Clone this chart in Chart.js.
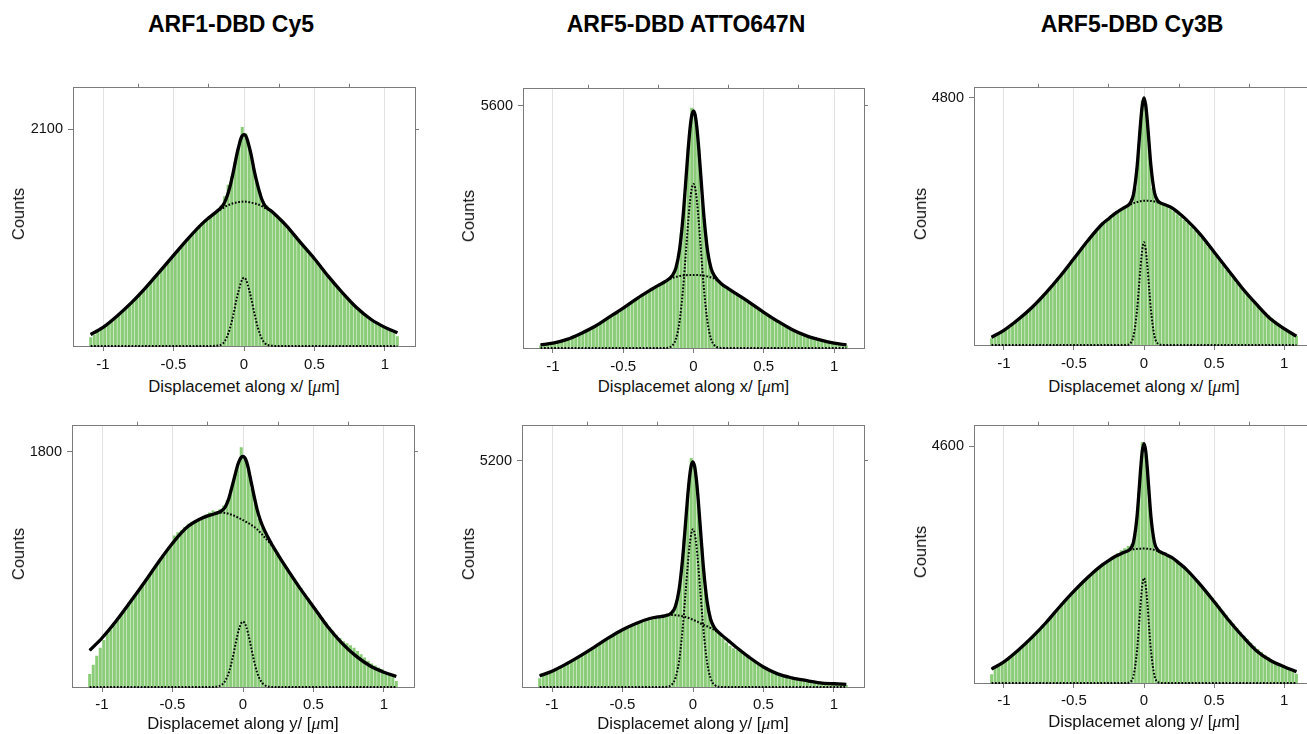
<!DOCTYPE html>
<html>
<head>
<meta charset="utf-8">
<title>Displacement histograms</title>
<script src="https://cdn.jsdelivr.net/npm/chart.js@4.4.1/dist/chart.umd.min.js"></script>
<style>
html,body{margin:0;padding:0;background:#fff;overflow:hidden;}
body{width:1307px;height:734px;position:relative;font-family:"Liberation Sans",Arial,Helvetica,sans-serif;color:#111;}
canvas{position:absolute;}
.title{position:absolute;font-weight:bold;font-size:23px;line-height:23px;white-space:nowrap;transform:translateX(-50%);color:#000;}
.ylab{position:absolute;font-size:16.5px;line-height:16px;white-space:nowrap;transform:translate(-50%,-50%) rotate(-90deg);}
.xlab{position:absolute;font-size:16.7px;line-height:16px;white-space:nowrap;transform:translate(-50%,-50%);}
.xlab i{font-family:"Liberation Serif","Times New Roman",serif;font-size:17.5px;}
</style>
</head>
<body>
<script>
/* ======================
   DATA
====================== */
const binCenters = [
-1.0875,-1.0625,-1.0375,-1.0125,-0.9875,-0.9625,-0.9375,-0.9125,-0.8875,-0.8625,
-0.8375,-0.8125,-0.7875,-0.7625,-0.7375,-0.7125,-0.6875,-0.6625,-0.6375,-0.6125,
-0.5875,-0.5625,-0.5375,-0.5125,-0.4875,-0.4625,-0.4375,-0.4125,-0.3875,-0.3625,
-0.3375,-0.3125,-0.2875,-0.2625,-0.2375,-0.2125,-0.1875,-0.1625,-0.1375,-0.1125,
-0.0875,-0.0625,-0.0375,-0.0125,0.0125,0.0375,0.0625,0.0875,0.1125,0.1375,
0.1625,0.1875,0.2125,0.2375,0.2625,0.2875,0.3125,0.3375,0.3625,0.3875,
0.4125,0.4375,0.4625,0.4875,0.5125,0.5375,0.5625,0.5875,0.6125,0.6375,
0.6625,0.6875,0.7125,0.7375,0.7625,0.7875,0.8125,0.8375,0.8625,0.8875,
0.9125,0.9375,0.9625,0.9875,1.0125,1.0375,1.0625,1.0875];

const curveX = [-1.0875,-1,-0.9,-0.8,-0.7,-0.6,-0.5,-0.4,-0.3,-0.25,-0.2,-0.15,-0.125,-0.1,-0.075,-0.05,-0.0375,-0.025,-0.0125,
0,0.0125,0.025,0.0375,0.05,0.075,0.1,0.125,0.15,0.2,0.25,0.3,0.4,0.5,0.6,0.7,0.8,0.9,1,1.0875];

const xTicks = [-1,-0.5,0,0.5,1];

const titles = ["ARF1-DBD Cy5","ARF5-DBD ATTO647N","ARF5-DBD Cy3B"];
const axisNames = ["x","y"];

// ARF1-DBD Cy5, along x
const cy5xCounts = [85,110,135,160,190,215,240,270,300,335,
365,400,430,465,505,540,580,620,660,700,
740,775,815,860,895,935,975,1015,1050,1090,
1130,1165,1200,1230,1260,1290,1320,1360,1450,1560,
1640,1780,1930,2120,2060,1940,1760,1600,1490,1400,
1360,1320,1290,1255,1225,1190,1150,1110,1070,1035,
990,950,905,870,820,780,735,695,650,610,
570,530,495,455,420,390,360,330,300,275,
250,225,205,185,170,150,130,95];
const cy5xFit = [111,180,291,417,560,718,877,1035,1180,1240,1295,1360,1430,1540,1690,1860,1930,1995,2035,2046,2035,1990,1925,1855,1680,1540,1425,1355,1300,1235,1165,1003,845,671,513,370,259,180,128];
const cy5xWide = [111,180,291,417,560,718,877,1035,1180,1240,1293,1335,1355,1370,1382,1390,1393,1395,1397,1398,1397,1395,1392,1388,1380,1370,1355,1335,1298,1235,1165,1003,845,671,513,370,259,180,128];
const cy5xNarrow = [0,0,0,0,0,0,0,0,0,0,2,25,75,170,308,470,537,600,645,661,645,600,537,470,308,170,75,25,2,0,0,0,0,0,0,0,0,0,0];

// ARF5-DBD ATTO647N, along x
const attoxCounts = [60,85,100,110,125,150,165,190,215,245,
280,315,355,395,440,480,530,580,630,685,
735,790,845,900,950,1005,1060,1115,1170,1225,
1275,1325,1380,1430,1475,1520,1580,1660,1780,2020,
2650,3550,4650,5560,5420,4600,3500,2600,2000,1740,
1620,1520,1460,1400,1330,1270,1225,1180,1130,1080,
1025,970,915,860,800,750,695,645,595,545,
500,455,410,370,335,300,275,245,225,205,
180,160,140,120,105,95,80,60];
const attoxFit = [74,112,200,338,503,713,925,1150,1353,1450,1540,1680,1855,2260,3018,4075,4615,5072,5379,5487,5379,5071,4613,4073,3014,2252,1843,1664,1482,1370,1263,1052,827,617,429,286,188,112,74];
const attoxWide = [74,112,200,338,503,713,925,1150,1353,1450,1538,1621,1645,1664,1678,1686,1689,1690,1691,1691,1691,1689,1687,1684,1674,1656,1633,1605,1480,1370,1263,1052,827,617,429,286,188,112,74];
const attoxNarrow = [0,0,0,0,0,0,0,0,0,0,2,59,210,596,1340,2389,2926,3382,3688,3796,3688,3382,2926,2389,1340,596,210,59,2,0,0,0,0,0,0,0,0,0,0];

// ARF5-DBD Cy3B, along x
const cy3bxCounts = [130,190,225,260,305,355,405,460,515,575,
640,700,765,835,905,975,1050,1130,1210,1290,
1370,1455,1540,1630,1720,1810,1900,1990,2070,2150,
2225,2300,2370,2430,2490,2540,2590,2640,2680,2720,
2850,3050,3900,4750,4700,3850,3050,2880,2790,2730,
2690,2650,2600,2540,2490,2430,2370,2300,2230,2160,
2080,1995,1910,1820,1735,1645,1555,1465,1380,1290,
1205,1120,1045,970,895,825,760,700,640,585,
520,465,410,360,310,265,225,180];
const cy3bxFit = [150,285,489,729,1014,1332,1680,2030,2346,2460,2568,2656,2692,2752,2926,3445,3861,4303,4649,4800,4653,4312,3876,3465,2959,2798,2752,2725,2664,2560,2441,2156,1807,1459,1109,800,515,318,171];
const cy3bxWide = [150,285,489,729,1014,1332,1680,2030,2346,2460,2568,2655,2690,2726,2755,2778,2787,2795,2800,2803,2804,2804,2802,2798,2788,2772,2750,2725,2664,2560,2441,2156,1807,1459,1109,800,515,318,171];
const cy3bxNarrow = [0,0,0,0,0,0,0,0,0,0,0,0,2,26,171,667,1074,1508,1849,1997,1849,1508,1074,667,171,26,2,0,0,0,0,0,0,0,0,0,0,0,0];

// ARF1-DBD Cy5, along y
const cy5yCounts = [100,170,240,300,360,410,440,480,525,565,
600,640,675,710,745,785,825,860,900,940,
975,1015,1050,1085,1160,1185,1200,1225,1250,1265,
1275,1290,1300,1320,1335,1350,1340,1360,1390,1430,
1510,1600,1700,1835,1740,1660,1520,1400,1290,1220,
1175,1120,1070,1030,990,950,910,870,830,790,
755,715,680,640,605,565,530,495,460,430,
400,375,350,335,320,300,275,250,225,200,
180,165,150,135,115,95,75,45];
const cy5yFit = [280,375,505,650,800,955,1100,1220,1288,1310,1326,1350,1380,1445,1545,1650,1700,1735,1758,1765,1755,1725,1675,1610,1480,1360,1270,1205,1100,1010,925,763,613,463,338,238,163,113,80];
const cy5yWide = [280,375,505,650,800,955,1100,1220,1288,1310,1326,1335,1332,1325,1316,1305,1298,1291,1284,1277,1270,1262,1255,1247,1228,1208,1180,1150,1090,1010,925,763,613,463,338,238,163,113,80];
const cy5yNarrow = [0,0,0,0,0,0,0,0,0,0,1,17,49,112,216,344,405,455,489,500,489,455,405,344,216,112,49,17,1,0,0,0,0,0,0,0,0,0,0];

// ARF5-DBD ATTO647N, along y
const attoyCounts = [200,290,320,350,385,420,460,500,545,590,
635,685,735,785,835,885,935,990,1040,1090,
1140,1190,1235,1280,1320,1355,1390,1420,1450,1480,
1505,1530,1555,1575,1590,1610,1640,1700,1780,1990,
2520,3400,4420,5260,5100,4250,3200,2300,1750,1450,
1320,1220,1120,1020,950,890,850,800,745,690,
640,590,545,495,450,410,370,330,300,275,
250,230,215,205,195,180,165,150,135,120,
105,95,85,78,70,62,55,45];
const attoyFit = [255,361,527,715,917,1127,1316,1465,1578,1610,1634,1711,1851,2209,2903,3885,4383,4805,5081,5167,5046,4735,4279,3746,2706,1964,1556,1371,1202,1065,930,680,460,301,211,150,97,75,60];
const attoyWide = [255,361,527,715,917,1127,1316,1465,1578,1610,1632,1655,1650,1640,1625,1605,1592,1578,1562,1545,1527,1508,1488,1466,1428,1395,1355,1315,1200,1065,930,680,460,301,211,150,97,75,60];
const attoyNarrow = [0,0,0,0,0,0,0,0,0,0,2,56,201,569,1278,2280,2791,3227,3519,3622,3519,3227,2791,2280,1278,569,201,56,2,0,0,0,0,0,0,0,0,0,0];

// ARF5-DBD Cy3B, along y
const cy3byCounts = [170,290,340,385,435,490,545,600,660,720,
785,855,925,995,1065,1135,1210,1285,1360,1440,
1520,1595,1670,1745,1820,1890,1960,2025,2085,2145,
2205,2260,2315,2360,2410,2455,2520,2580,2620,2660,
2700,2900,3700,4680,4450,3550,2880,2620,2570,2530,
2490,2450,2400,2345,2290,2235,2175,2110,2040,1970,
1895,1815,1735,1655,1570,1485,1400,1315,1230,1150,
1070,990,920,850,780,720,660,600,545,495,
445,405,365,330,300,265,235,180];
const cy3byFit = [270,411,633,886,1171,1487,1785,2056,2290,2385,2468,2530,2558,2600,2737,3226,3653,4126,4506,4652,4505,4124,3649,3220,2725,2581,2536,2505,2436,2330,2214,1917,1582,1234,918,633,443,316,221];
const cy3byWide = [270,411,633,886,1171,1487,1785,2056,2290,2385,2468,2530,2557,2582,2597,2606,2609,2611,2612,2612,2611,2609,2605,2600,2585,2563,2535,2505,2436,2330,2214,1917,1582,1234,918,633,443,316,221];
const cy3byNarrow = [0,0,0,0,0,0,0,0,0,0,0,0,1,18,140,620,1044,1515,1894,2040,1894,1515,1044,620,140,18,1,0,0,0,0,0,0,0,0,0,0,0,0];

const yMax = [2500,6000,5000,2000,6000,5000];
const yTicks = [[2100],[5600],[4800],[1800],[5200],[4600]];

const panels = [
  {counts:cy5xCounts, fit:cy5xFit, wide:cy5xWide, narrow:cy5xNarrow},
  {counts:attoxCounts, fit:attoxFit, wide:attoxWide, narrow:attoxNarrow},
  {counts:cy3bxCounts, fit:cy3bxFit, wide:cy3bxWide, narrow:cy3bxNarrow},
  {counts:cy5yCounts, fit:cy5yFit, wide:cy5yWide, narrow:cy5yNarrow},
  {counts:attoyCounts, fit:attoyFit, wide:attoyWide, narrow:attoyNarrow},
  {counts:cy3byCounts, fit:cy3byFit, wide:cy3byWide, narrow:cy3byNarrow}
];

/* ======================
   LAYOUT (plot box in page pixels)
====================== */
const boxes = [
  {l:73, t:82, r:415, b:346, pad:5, xlabY:386},
  {l:523, t:83, r:864, b:348, pad:5, xlabY:386},
  {l:974, t:82, r:1314, b:345, pad:5, xlabY:386},
  {l:72, t:420, r:414, b:687, pad:4, xlabY:723},
  {l:522, t:420, r:864, b:687, pad:4, xlabY:723},
  {l:974, t:420, r:1314, b:683, pad:4, xlabY:721}
];
const titleX = [231, 686, 1132];
const countsX = [18, 468, 920];

const FONT = "'Liberation Sans', Arial, Helvetica, sans-serif";
const AXIS_GREY = "#7b7b7b";
const Y_AXIS_W = 52;

function pts(xs, ys){
  return xs.map((x,k) => ({x:x, y:ys[k]}));
}

function makePanel(i){
  const box = boxes[i];
  const p = panels[i];
  const w = box.r - box.l + Y_AXIS_W + 8;
  const h = box.b - box.t + 34;

  const cv = document.createElement("canvas");
  cv.width = w; cv.height = h;
  cv.style.left = (box.l - Y_AXIS_W) + "px";
  cv.style.top = (box.t - 8) + "px";
  cv.style.width = w + "px";
  cv.style.height = h + "px";
  document.body.appendChild(cv);

  const setX = s => { s.ticks = xTicks.map(v => ({value:v})); };
  const setY = s => { s.ticks = yTicks[i].map(v => ({value:v})); };
  const dotClip = {left:0, top:0, right:0, bottom:3};

  new Chart(cv, {
    type: "bar",
    data: {
      datasets: [
        {type:"line", data:pts(curveX, p.fit), borderColor:"#000", borderWidth:3.3,
         pointRadius:0, cubicInterpolationMode:"monotone", xAxisID:"x", yAxisID:"y", order:1},
        {type:"line", data:pts(curveX, p.wide), borderColor:"#000", borderWidth:2, borderDash:[1.7,1.7],
         pointRadius:0, cubicInterpolationMode:"monotone", clip:dotClip, xAxisID:"x", yAxisID:"y", order:2},
        {type:"line", data:pts(curveX, p.narrow), borderColor:"#000", borderWidth:2, borderDash:[1.7,1.7],
         pointRadius:0, cubicInterpolationMode:"monotone", clip:dotClip, xAxisID:"x", yAxisID:"y", order:3},
        {type:"bar", data:pts(binCenters, p.counts), backgroundColor:"#8acc78",
         barPercentage:0.86, categoryPercentage:1, xAxisID:"x", yAxisID:"y", order:4}
      ]
    },
    options: {
      responsive:false,
      animation:false,
      events:[],
      layout:{padding:0},
      plugins:{legend:{display:false}, tooltip:{enabled:false}},
      scales:{
        x:{type:"linear", position:"bottom", min:-1.213, max:1.213, offset:false,
           afterBuildTicks:setX, afterFit:s => { s.height = 26; },
           grid:{color:"#e2e2e2", offset:false, tickColor:AXIS_GREY, tickLength:5},
           border:{display:true, color:AXIS_GREY, width:1},
           ticks:{color:"#111", font:{family:FONT, size:15}, padding:box.pad,
                  maxRotation:0, autoSkip:false, callback:v => String(v)}},
        xTop:{type:"linear", position:"top", min:-1.213, max:1.213, offset:false,
           afterBuildTicks:setX, afterFit:s => { s.height = 8; },
           grid:{drawOnChartArea:false, tickColor:AXIS_GREY, tickLength:4},
           border:{display:true, color:AXIS_GREY, width:1},
           ticks:{display:false}},
        y:{type:"linear", position:"left", min:0, max:yMax[i],
           afterBuildTicks:setY, afterFit:s => { s.width = Y_AXIS_W; },
           grid:{drawOnChartArea:false, tickColor:AXIS_GREY, tickLength:5},
           border:{display:true, color:AXIS_GREY, width:1},
           ticks:{color:"#111", font:{family:FONT, size:14.5}, padding:5, callback:v => String(v)}},
        yRight:{type:"linear", position:"right", min:0, max:yMax[i],
           afterBuildTicks:setY, afterFit:s => { s.width = 8; },
           grid:{drawOnChartArea:false, tickColor:AXIS_GREY, tickLength:4},
           border:{display:true, color:AXIS_GREY, width:1},
           ticks:{display:false}}
      }
    }
  });

  // axis labels as page text
  const yl = document.createElement("div");
  yl.className = "ylab";
  yl.textContent = "Counts";
  yl.style.left = countsX[i % 3] + "px";
  yl.style.top = ((box.t + box.b) / 2) + "px";
  document.body.appendChild(yl);

  const xl = document.createElement("div");
  xl.className = "xlab";
  xl.innerHTML = "Displacemet along " + axisNames[Math.floor(i / 3)] + "/ [<i>\u03bc</i>m]";
  xl.style.left = ((box.l + box.r) / 2) + "px";
  xl.style.top = box.xlabY + "px";
  document.body.appendChild(xl);
}

for (let i = 0; i < panels.length; i++) makePanel(i);

/* ======================
   COLUMN TITLES
====================== */
titles.forEach((t, k) => {
  const d = document.createElement("div");
  d.className = "title";
  d.textContent = t;
  d.style.left = titleX[k] + "px";
  d.style.top = "13px";
  document.body.appendChild(d);
});
</script>
</body>
</html>
